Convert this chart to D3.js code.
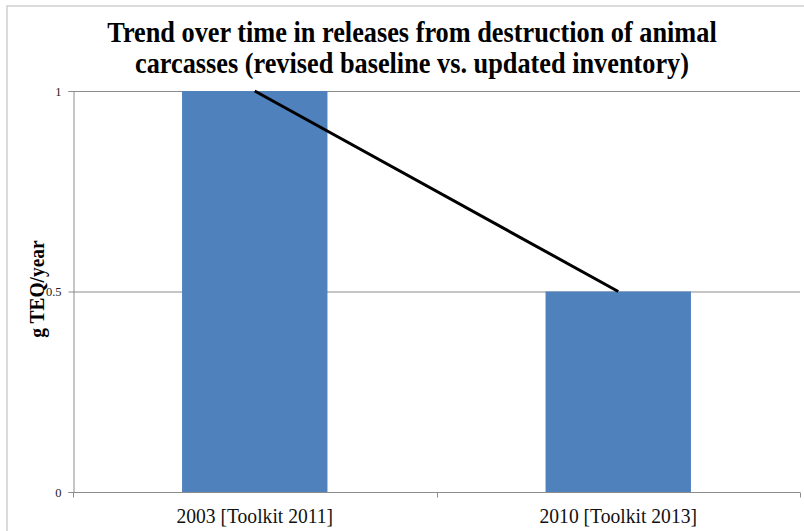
<!DOCTYPE html>
<html><head><meta charset="utf-8">
<script src="https://cdn.jsdelivr.net/npm/d3@7"></script>
<style>body{margin:0;background:#fff}svg{display:block}</style>
</head><body>
<svg id="c" width="804" height="531"></svg>
<script>
const categories = ["2003 [Toolkit 2011]", "2010 [Toolkit 2013]"];
const barValues = [1, 0.5];
const lineValues = [1, 0.5];
const yTicks = [0, 0.5, 1];
const titleLines = ["Trend over time in releases from destruction of animal", "carcasses (revised baseline vs. updated inventory)"];
const yLabel = "g TEQ/year";

const svg = d3.select("#c");
const serif = "'Liberation Serif', 'Times New Roman', serif";
// outer border
svg.append("rect").attr("x", 7).attr("y", 6).attr("width", 820).attr("height", 560)
  .attr("fill", "none").attr("stroke", "#d0d0d0").attr("stroke-width", 1.5);

const L = 73, R = 800, T = 91, B = 492;
const x = d3.scaleBand().domain(categories).range([L, R]).paddingInner(0.6).paddingOuter(0.3);
const y = d3.scaleLinear().domain([0, 1]).range([B, T]);

// gridlines
svg.append("g").selectAll("line").data(yTicks.filter(d => d > 0)).join("line")
  .attr("x1", L).attr("x2", R).attr("y1", d => y(d) + 0.5).attr("y2", d => y(d) + 0.5)
  .attr("stroke", "#8c8c8c").attr("stroke-width", 1);

// bars
svg.append("g").selectAll("rect").data(barValues).join("rect")
  .attr("x", (d, i) => x(categories[i])).attr("width", x.bandwidth())
  .attr("y", d => y(d)).attr("height", d => B - y(d)).attr("fill", "#4f81bd");

// y axis
const ya = svg.append("g").attr("transform", `translate(${L + 0.5},0)`)
  .call(d3.axisLeft(y).tickValues(yTicks).tickFormat(d3.format("")).tickSize(5).tickPadding(7));
ya.selectAll("path,line").attr("stroke", "#8c8c8c");
ya.selectAll("text").style("font-family", serif).style("font-size", "12.5px").attr("fill", "#222");

// x axis
const xa = svg.append("g").attr("transform", `translate(0,${B + 0.5})`);
xa.append("line").attr("x1", L).attr("x2", R).attr("stroke", "#8c8c8c");
const bounds = [L, (L + R) / 2, R];
xa.selectAll("line.t").data(bounds).join("line").attr("class", "t")
  .attr("x1", d => Math.round(d) + 0.5).attr("x2", d => Math.round(d) + 0.5).attr("y1", 0).attr("y2", 5)
  .attr("stroke", "#8c8c8c");
xa.selectAll("text").data(categories).join("text")
  .attr("transform", d => `translate(${x(d) + x.bandwidth() / 2},30) scale(1,1.07)`)
  .attr("text-anchor", "middle").style("font-family", serif).style("font-size", "19.6px").attr("fill", "#111")
  .text(d => d);

// line
const line = d3.line().x((d, i) => x(categories[i]) + x.bandwidth() / 2).y(d => y(d));
svg.append("path").datum(lineValues).attr("d", line).attr("fill", "none")
  .attr("stroke", "#000").attr("stroke-width", 3);

// title
svg.append("g").selectAll("text").data(titleLines).join("text")
  .attr("transform", (d, i) => `translate(412,${42 + i * 30.5}) scale(1,1.08)`).attr("text-anchor", "middle")
  .style("font-family", serif).style("font-weight", "bold").style("font-size", "26.3px").attr("fill", "#000")
  .text(d => d);

// y label
svg.append("text").attr("transform", `translate(44,289) rotate(-90) scale(1.05,1.15)`)
  .attr("text-anchor", "middle").style("font-family", serif).style("font-weight", "bold")
  .style("font-size", "18.5px").attr("fill", "#000").text(yLabel);
</script>
</body></html>
